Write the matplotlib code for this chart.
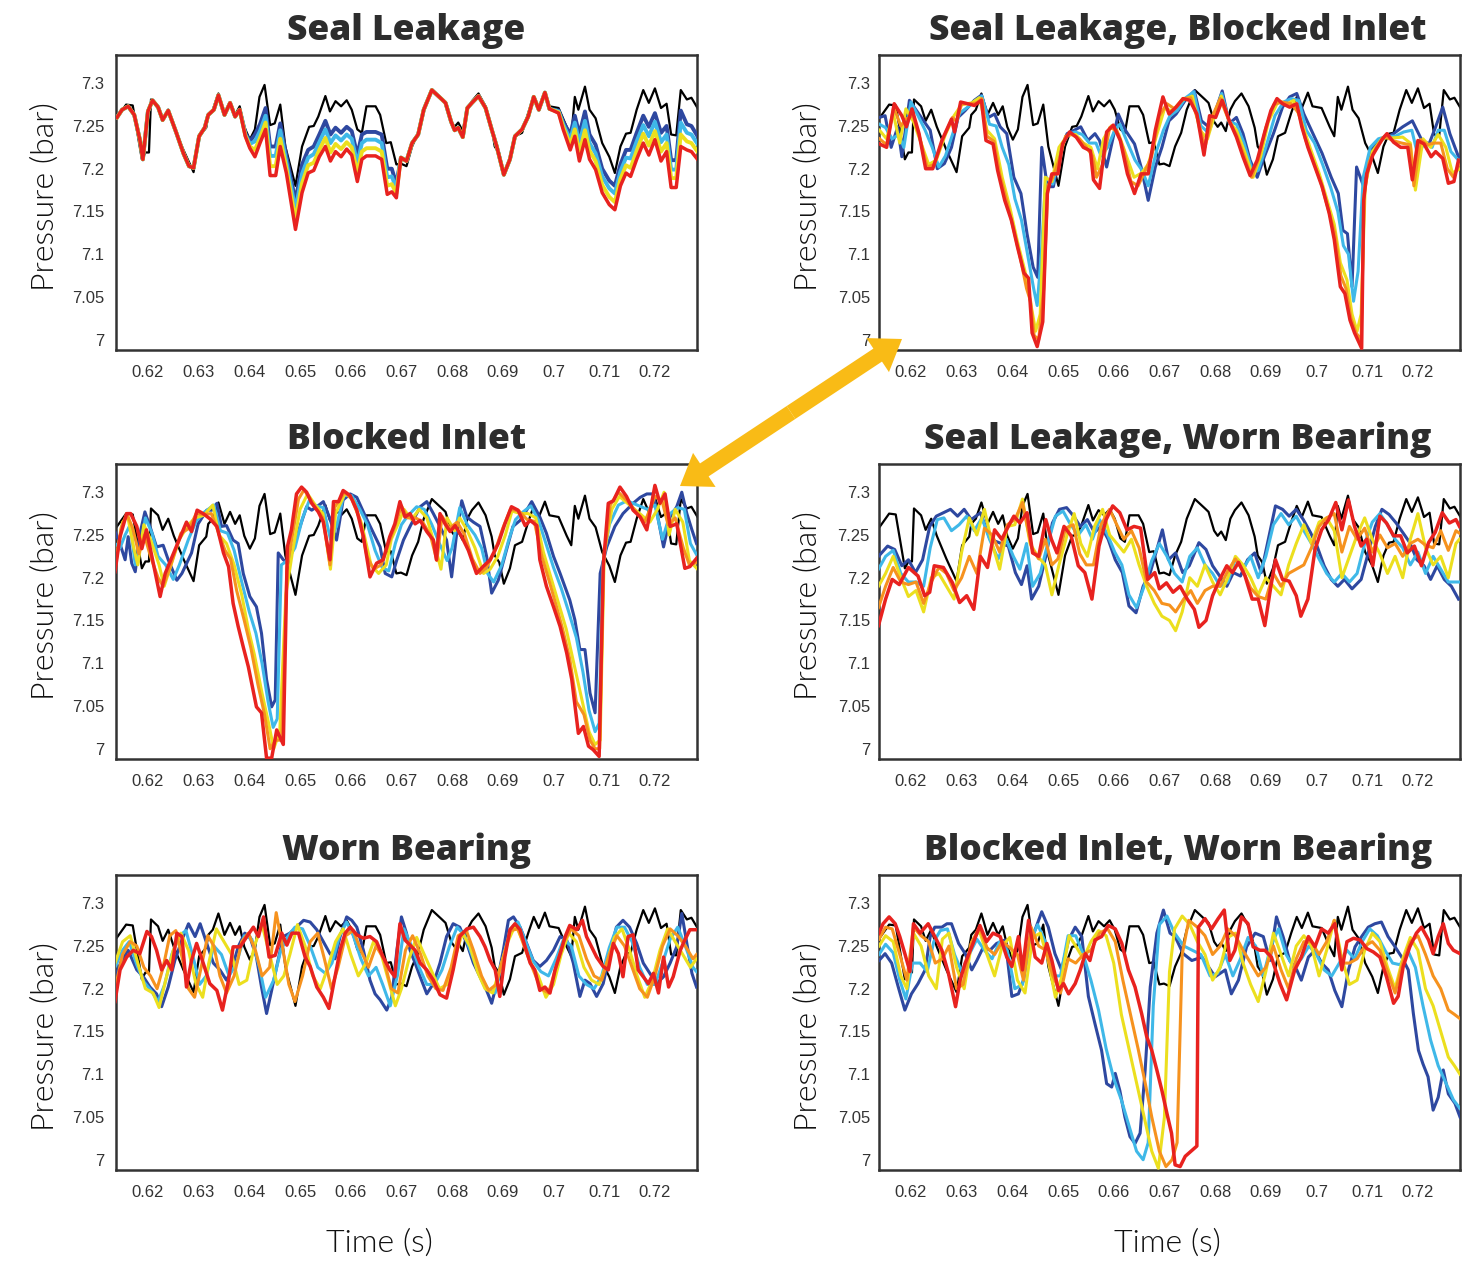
import numpy as np
import matplotlib.pyplot as plt
from matplotlib.patches import FancyArrowPatch

# healthy pump, shared by all six panels: (time s, pressure bar)
healthy = [
    (0.6139, 7.260), (0.6157, 7.275), (0.6170, 7.274), (0.6188, 7.211), (0.6195, 7.219), (0.6202, 7.219),
    (0.6206, 7.281), (0.6220, 7.273), (0.6229, 7.256), (0.6240, 7.269), (0.6251, 7.249), (0.6270, 7.222),
    (0.6290, 7.196), (0.6301, 7.238), (0.6315, 7.248), (0.6319, 7.263), (0.6328, 7.269), (0.6339, 7.288),
    (0.6351, 7.263), (0.6362, 7.277), (0.6372, 7.263), (0.6381, 7.273), (0.6390, 7.249), (0.6401, 7.234),
    (0.6411, 7.246), (0.6420, 7.284), (0.6430, 7.298), (0.6441, 7.251), (0.6450, 7.253), (0.6461, 7.275),
    (0.6471, 7.226), (0.6491, 7.180), (0.6504, 7.226), (0.6518, 7.249), (0.6527, 7.250), (0.6536, 7.261),
    (0.6550, 7.285), (0.6559, 7.267), (0.6570, 7.279), (0.6581, 7.273), (0.6592, 7.280), (0.6602, 7.269),
    (0.6613, 7.246), (0.6622, 7.242), (0.6631, 7.273), (0.6649, 7.273), (0.6658, 7.263), (0.6670, 7.230),
    (0.6679, 7.231), (0.6690, 7.205), (0.6699, 7.206), (0.6710, 7.203), (0.6721, 7.226), (0.6733, 7.242),
    (0.6744, 7.269), (0.6760, 7.292), (0.6780, 7.281), (0.6787, 7.277), (0.6798, 7.255), (0.6805, 7.249),
    (0.6812, 7.254), (0.6821, 7.244), (0.6830, 7.269), (0.6839, 7.279), (0.6852, 7.288), (0.6866, 7.273),
    (0.6878, 7.248), (0.6884, 7.226), (0.6893, 7.218), (0.6902, 7.193), (0.6914, 7.211), (0.6924, 7.238),
    (0.6938, 7.242), (0.6950, 7.265), (0.6961, 7.284), (0.6971, 7.271), (0.6983, 7.289), (0.6992, 7.273),
    (0.7010, 7.271), (0.7026, 7.249), (0.7035, 7.238), (0.7042, 7.284), (0.7049, 7.269), (0.7062, 7.296),
    (0.7071, 7.269), (0.7083, 7.259), (0.7096, 7.230), (0.7110, 7.214), (0.7121, 7.195), (0.7132, 7.226),
    (0.7143, 7.241), (0.7152, 7.242), (0.7164, 7.269), (0.7177, 7.292), (0.7188, 7.277), (0.7200, 7.294),
    (0.7212, 7.271), (0.7223, 7.276), (0.7232, 7.240), (0.7242, 7.239), (0.7251, 7.292), (0.7263, 7.281),
    (0.7272, 7.283), (0.7284, 7.271),
]

# Seal Leakage: time, then blue / cyan / yellow / red severity
seal_rows = [
    (0.6139, 7.260, 7.260, 7.260, 7.260), (0.6149, 7.269, 7.269, 7.269, 7.269),
    (0.6161, 7.273, 7.273, 7.273, 7.273), (0.6173, 7.263, 7.263, 7.263, 7.263),
    (0.6184, 7.234, 7.234, 7.234, 7.234), (0.6190, 7.211, 7.211, 7.211, 7.211),
    (0.6200, 7.267, 7.267, 7.267, 7.267), (0.6209, 7.280, 7.280, 7.280, 7.280),
    (0.6220, 7.272, 7.272, 7.272, 7.272), (0.6229, 7.257, 7.257, 7.257, 7.257),
    (0.6240, 7.268, 7.268, 7.268, 7.268), (0.6256, 7.242, 7.242, 7.242, 7.242),
    (0.6270, 7.218, 7.218, 7.218, 7.218), (0.6281, 7.203, 7.203, 7.203, 7.203),
    (0.6290, 7.201, 7.201, 7.201, 7.201), (0.6301, 7.238, 7.238, 7.238, 7.238),
    (0.6312, 7.248, 7.248, 7.248, 7.248), (0.6319, 7.263, 7.263, 7.263, 7.263),
    (0.6330, 7.269, 7.269, 7.269, 7.269), (0.6339, 7.286, 7.286, 7.286, 7.286),
    (0.6351, 7.263, 7.263, 7.263, 7.263), (0.6362, 7.277, 7.277, 7.277, 7.277),
    (0.6372, 7.261, 7.261, 7.261, 7.261), (0.6381, 7.269, 7.269, 7.269, 7.269),
    (0.6392, 7.242, 7.240, 7.239, 7.238), (0.6401, 7.232, 7.229, 7.226, 7.224),
    (0.6411, 7.240, 7.232, 7.222, 7.214), (0.6421, 7.252, 7.244, 7.236, 7.230),
    (0.6432, 7.271, 7.262, 7.254, 7.246), (0.6441, 7.226, 7.215, 7.203, 7.192),
    (0.6452, 7.226, 7.215, 7.203, 7.192), (0.6461, 7.253, 7.245, 7.235, 7.226),
    (0.6473, 7.215, 7.208, 7.201, 7.195), (0.6491, 7.162, 7.152, 7.140, 7.129),
    (0.6504, 7.205, 7.194, 7.183, 7.172), (0.6516, 7.222, 7.213, 7.204, 7.195),
    (0.6527, 7.226, 7.217, 7.207, 7.198), (0.6538, 7.240, 7.231, 7.222, 7.214),
    (0.6550, 7.256, 7.246, 7.236, 7.226), (0.6560, 7.240, 7.230, 7.219, 7.209),
    (0.6570, 7.248, 7.239, 7.229, 7.220), (0.6581, 7.242, 7.233, 7.223, 7.214),
    (0.6592, 7.249, 7.240, 7.231, 7.223), (0.6602, 7.244, 7.235, 7.225, 7.216),
    (0.6613, 7.216, 7.206, 7.195, 7.185), (0.6622, 7.240, 7.230, 7.220, 7.211),
    (0.6631, 7.243, 7.234, 7.224, 7.215), (0.6649, 7.243, 7.234, 7.224, 7.215),
    (0.6661, 7.240, 7.230, 7.220, 7.211), (0.6672, 7.200, 7.190, 7.180, 7.170),
    (0.6681, 7.200, 7.191, 7.182, 7.173), (0.6690, 7.182, 7.177, 7.171, 7.166),
    (0.6699, 7.213, 7.213, 7.213, 7.213), (0.6710, 7.209, 7.209, 7.209, 7.209),
    (0.6721, 7.230, 7.230, 7.230, 7.230), (0.6733, 7.240, 7.240, 7.240, 7.240),
    (0.6744, 7.269, 7.269, 7.269, 7.269), (0.6760, 7.292, 7.292, 7.292, 7.292),
    (0.6780, 7.281, 7.281, 7.281, 7.281), (0.6787, 7.277, 7.277, 7.277, 7.277),
    (0.6798, 7.255, 7.255, 7.255, 7.255), (0.6805, 7.245, 7.245, 7.245, 7.245),
    (0.6812, 7.248, 7.248, 7.248, 7.248), (0.6821, 7.237, 7.237, 7.237, 7.237),
    (0.6830, 7.271, 7.271, 7.271, 7.271), (0.6839, 7.277, 7.277, 7.277, 7.277),
    (0.6852, 7.285, 7.285, 7.285, 7.285), (0.6866, 7.271, 7.271, 7.271, 7.271),
    (0.6878, 7.246, 7.246, 7.246, 7.246), (0.6888, 7.226, 7.226, 7.226, 7.226),
    (0.6902, 7.193, 7.193, 7.193, 7.193), (0.6914, 7.211, 7.211, 7.211, 7.211),
    (0.6924, 7.238, 7.238, 7.238, 7.238), (0.6938, 7.246, 7.246, 7.246, 7.246),
    (0.6950, 7.261, 7.261, 7.261, 7.261), (0.6961, 7.284, 7.284, 7.284, 7.284),
    (0.6971, 7.269, 7.269, 7.269, 7.269), (0.6983, 7.289, 7.289, 7.289, 7.289),
    (0.6992, 7.270, 7.270, 7.270, 7.270), (0.7010, 7.268, 7.267, 7.266, 7.265),
    (0.7019, 7.255, 7.252, 7.249, 7.246), (0.7033, 7.240, 7.234, 7.228, 7.222),
    (0.7042, 7.262, 7.254, 7.246, 7.238), (0.7051, 7.240, 7.230, 7.219, 7.209),
    (0.7062, 7.267, 7.256, 7.245, 7.234), (0.7071, 7.240, 7.230, 7.221, 7.211),
    (0.7083, 7.228, 7.218, 7.209, 7.199), (0.7096, 7.200, 7.191, 7.181, 7.172),
    (0.7110, 7.186, 7.177, 7.167, 7.158), (0.7121, 7.180, 7.171, 7.161, 7.152),
    (0.7132, 7.205, 7.197, 7.188, 7.180), (0.7143, 7.222, 7.213, 7.204, 7.195),
    (0.7152, 7.222, 7.212, 7.201, 7.191), (0.7164, 7.242, 7.232, 7.221, 7.211),
    (0.7177, 7.262, 7.251, 7.241, 7.230), (0.7188, 7.249, 7.238, 7.227, 7.216),
    (0.7200, 7.265, 7.255, 7.244, 7.234), (0.7212, 7.242, 7.231, 7.220, 7.209),
    (0.7223, 7.250, 7.240, 7.230, 7.220), (0.7232, 7.210, 7.199, 7.189, 7.178),
    (0.7242, 7.210, 7.199, 7.189, 7.178), (0.7251, 7.268, 7.254, 7.240, 7.226),
    (0.7263, 7.252, 7.242, 7.232, 7.222), (0.7272, 7.250, 7.240, 7.230, 7.220),
    (0.7284, 7.238, 7.229, 7.220, 7.211),
]

# Seal Leakage, Blocked Inlet
slbi_blue = [
    (0.6138, 7.260), (0.6149, 7.262), (0.6161, 7.225), (0.6174, 7.249), (0.6182, 7.214), (0.6197, 7.280),
    (0.6211, 7.268), (0.6225, 7.256), (0.6238, 7.245), (0.6252, 7.200), (0.6266, 7.206), (0.6280, 7.225),
    (0.6293, 7.260), (0.6307, 7.268), (0.6325, 7.280), (0.6339, 7.286), (0.6353, 7.260), (0.6365, 7.264),
    (0.6376, 7.249), (0.6389, 7.241), (0.6403, 7.190), (0.6417, 7.171), (0.6429, 7.124), (0.6441, 7.085),
    (0.6450, 7.073), (0.6458, 7.225), (0.6469, 7.179), (0.6481, 7.179), (0.6494, 7.221), (0.6508, 7.241),
    (0.6522, 7.245), (0.6535, 7.249), (0.6549, 7.233), (0.6563, 7.241), (0.6572, 7.233), (0.6586, 7.202),
    (0.6599, 7.237), (0.6609, 7.264), (0.6623, 7.245), (0.6641, 7.229), (0.6654, 7.202), (0.6668, 7.163),
    (0.6682, 7.202), (0.6695, 7.225), (0.6709, 7.256), (0.6723, 7.264), (0.6741, 7.280), (0.6759, 7.291),
    (0.6773, 7.256), (0.6787, 7.249), (0.6801, 7.268), (0.6814, 7.291), (0.6828, 7.253), (0.6842, 7.260),
    (0.6855, 7.241), (0.6869, 7.210), (0.6883, 7.190), (0.6897, 7.214), (0.6915, 7.241), (0.6933, 7.272),
    (0.6947, 7.284), (0.6961, 7.288), (0.6975, 7.264), (0.6993, 7.241), (0.7011, 7.218), (0.7029, 7.190),
    (0.7043, 7.171), (0.7052, 7.128), (0.7061, 7.124), (0.7070, 7.062), (0.7079, 7.202), (0.7093, 7.179),
    (0.7107, 7.221), (0.7121, 7.233), (0.7139, 7.237), (0.7152, 7.241), (0.7170, 7.249), (0.7189, 7.256),
    (0.7208, 7.233), (0.7222, 7.229), (0.7235, 7.249), (0.7249, 7.272), (0.7263, 7.241), (0.7280, 7.214),
]
slbi_cyan = [
    (0.6138, 7.252), (0.6150, 7.248), (0.6163, 7.235), (0.6176, 7.240), (0.6186, 7.225), (0.6200, 7.278),
    (0.6214, 7.262), (0.6228, 7.245), (0.6242, 7.225), (0.6255, 7.202), (0.6268, 7.215), (0.6282, 7.240),
    (0.6296, 7.265), (0.6312, 7.272), (0.6328, 7.280), (0.6340, 7.285), (0.6355, 7.252), (0.6368, 7.250),
    (0.6380, 7.225), (0.6393, 7.205), (0.6405, 7.165), (0.6418, 7.140), (0.6430, 7.100), (0.6442, 7.060),
    (0.6449, 7.040), (0.6457, 7.100), (0.6466, 7.190), (0.6480, 7.182), (0.6494, 7.222), (0.6510, 7.240),
    (0.6524, 7.243), (0.6538, 7.240), (0.6552, 7.230), (0.6565, 7.230), (0.6575, 7.215), (0.6588, 7.225),
    (0.6602, 7.245), (0.6612, 7.252), (0.6626, 7.232), (0.6642, 7.210), (0.6656, 7.198), (0.6668, 7.180),
    (0.6684, 7.220), (0.6698, 7.245), (0.6711, 7.262), (0.6725, 7.268), (0.6742, 7.283), (0.6758, 7.290),
    (0.6772, 7.250), (0.6787, 7.242), (0.6802, 7.266), (0.6813, 7.288), (0.6828, 7.255), (0.6842, 7.252),
    (0.6857, 7.230), (0.6872, 7.200), (0.6885, 7.198), (0.6900, 7.225), (0.6918, 7.262), (0.6935, 7.278),
    (0.6950, 7.282), (0.6965, 7.280), (0.6980, 7.245), (0.6996, 7.230), (0.7012, 7.205), (0.7028, 7.178),
    (0.7042, 7.150), (0.7053, 7.110), (0.7063, 7.100), (0.7073, 7.045), (0.7082, 7.080), (0.7092, 7.190),
    (0.7106, 7.225), (0.7122, 7.235), (0.7140, 7.238), (0.7155, 7.238), (0.7172, 7.243), (0.7188, 7.245),
    (0.7200, 7.215), (0.7212, 7.230), (0.7228, 7.225), (0.7240, 7.245), (0.7252, 7.245), (0.7265, 7.220),
    (0.7280, 7.210),
]
slbi_mid = [
    (0.6138, 7.245), (0.6152, 7.235), (0.6165, 7.265), (0.6178, 7.230), (0.6190, 7.270), (0.6205, 7.255),
    (0.6220, 7.230), (0.6235, 7.205), (0.6250, 7.210), (0.6268, 7.240), (0.6285, 7.262), (0.6300, 7.275),
    (0.6320, 7.277), (0.6335, 7.283), (0.6350, 7.245), (0.6365, 7.235), (0.6380, 7.190), (0.6395, 7.155),
    (0.6410, 7.115), (0.6425, 7.080), (0.6437, 7.040), (0.6446, 7.010), (0.6455, 7.030), (0.6465, 7.190),
    (0.6478, 7.185), (0.6492, 7.225), (0.6510, 7.240), (0.6525, 7.240), (0.6540, 7.230), (0.6555, 7.225),
    (0.6568, 7.200), (0.6580, 7.235), (0.6595, 7.250), (0.6610, 7.240), (0.6625, 7.215), (0.6640, 7.190),
    (0.6655, 7.195), (0.6668, 7.205), (0.6685, 7.240), (0.6700, 7.270), (0.6715, 7.268), (0.6735, 7.280),
    (0.6755, 7.285), (0.6770, 7.245), (0.6785, 7.235), (0.6800, 7.265), (0.6812, 7.285), (0.6828, 7.255),
    (0.6842, 7.245), (0.6858, 7.220), (0.6875, 7.190), (0.6890, 7.215), (0.6905, 7.255), (0.6925, 7.280),
    (0.6940, 7.275), (0.6955, 7.280), (0.6970, 7.255), (0.6990, 7.220), (0.7005, 7.195), (0.7020, 7.165),
    (0.7035, 7.135), (0.7047, 7.090), (0.7060, 7.070), (0.7070, 7.030), (0.7080, 7.010), (0.7088, 7.030),
    (0.7096, 7.180), (0.7110, 7.220), (0.7130, 7.236), (0.7150, 7.236), (0.7170, 7.237), (0.7185, 7.230),
    (0.7195, 7.175), (0.7210, 7.235), (0.7225, 7.225), (0.7240, 7.240), (0.7255, 7.225), (0.7268, 7.195),
    (0.7283, 7.200),
]
slbi_orange = [
    (0.6138, 7.235), (0.6152, 7.228), (0.6166, 7.272), (0.6180, 7.250), (0.6190, 7.258), (0.6204, 7.262),
    (0.6218, 7.235), (0.6232, 7.202), (0.6246, 7.205), (0.6264, 7.236), (0.6282, 7.260), (0.6290, 7.255),
    (0.6300, 7.276), (0.6316, 7.276), (0.6330, 7.277), (0.6340, 7.282), (0.6350, 7.238), (0.6364, 7.232),
    (0.6375, 7.194), (0.6390, 7.160), (0.6403, 7.128), (0.6416, 7.095), (0.6428, 7.060), (0.6436, 7.045),
    (0.6443, 7.005), (0.6452, 7.000), (0.6462, 7.060), (0.6470, 7.180), (0.6480, 7.190), (0.6492, 7.210),
    (0.6505, 7.238), (0.6518, 7.240), (0.6532, 7.235), (0.6546, 7.225), (0.6558, 7.215), (0.6566, 7.190),
    (0.6578, 7.205), (0.6592, 7.248), (0.6606, 7.245), (0.6620, 7.222), (0.6634, 7.185), (0.6648, 7.180),
    (0.6660, 7.195), (0.6675, 7.215), (0.6690, 7.262), (0.6705, 7.276), (0.6720, 7.270), (0.6736, 7.282),
    (0.6752, 7.283), (0.6767, 7.255), (0.6780, 7.225), (0.6795, 7.262), (0.6810, 7.282), (0.6828, 7.255),
    (0.6842, 7.240), (0.6856, 7.217), (0.6872, 7.190), (0.6886, 7.212), (0.6900, 7.248), (0.6916, 7.275),
    (0.6932, 7.278), (0.6950, 7.276), (0.6965, 7.265), (0.6978, 7.235), (0.6993, 7.210), (0.7008, 7.185),
    (0.7022, 7.155), (0.7036, 7.125), (0.7048, 7.075), (0.7058, 7.060), (0.7068, 7.025), (0.7078, 7.008),
    (0.7088, 7.000), (0.7094, 7.170), (0.7104, 7.208), (0.7118, 7.225), (0.7135, 7.238), (0.7150, 7.233),
    (0.7168, 7.230), (0.7185, 7.228), (0.7192, 7.180), (0.7205, 7.234), (0.7218, 7.228), (0.7232, 7.230),
    (0.7245, 7.230), (0.7258, 7.200), (0.7270, 7.190), (0.7281, 7.205),
]
slbi_red = [
    (0.6138, 7.229), (0.6152, 7.225), (0.6167, 7.276), (0.6182, 7.262), (0.6191, 7.249), (0.6202, 7.270),
    (0.6216, 7.241), (0.6229, 7.200), (0.6243, 7.200), (0.6261, 7.233), (0.6280, 7.258), (0.6286, 7.243),
    (0.6298, 7.278), (0.6312, 7.276), (0.6325, 7.274), (0.6339, 7.280), (0.6348, 7.233), (0.6362, 7.229),
    (0.6371, 7.198), (0.6385, 7.163), (0.6398, 7.140), (0.6410, 7.109), (0.6423, 7.078), (0.6432, 7.072),
    (0.6439, 7.008), (0.6449, 6.992), (0.6460, 7.021), (0.6469, 7.171), (0.6478, 7.194), (0.6490, 7.194),
    (0.6499, 7.229), (0.6513, 7.243), (0.6526, 7.237), (0.6540, 7.225), (0.6554, 7.221), (0.6560, 7.187),
    (0.6572, 7.177), (0.6586, 7.243), (0.6599, 7.251), (0.6613, 7.233), (0.6627, 7.194), (0.6641, 7.171),
    (0.6654, 7.194), (0.6668, 7.194), (0.6682, 7.245), (0.6697, 7.284), (0.6709, 7.264), (0.6723, 7.272),
    (0.6737, 7.282), (0.6750, 7.280), (0.6764, 7.264), (0.6778, 7.216), (0.6789, 7.262), (0.6801, 7.260),
    (0.6814, 7.280), (0.6828, 7.256), (0.6842, 7.237), (0.6855, 7.214), (0.6869, 7.192), (0.6883, 7.210),
    (0.6897, 7.241), (0.6910, 7.268), (0.6922, 7.282), (0.6933, 7.276), (0.6947, 7.272), (0.6961, 7.276),
    (0.6971, 7.249), (0.6983, 7.225), (0.6997, 7.202), (0.7011, 7.179), (0.7025, 7.148), (0.7035, 7.117),
    (0.7047, 7.062), (0.7056, 7.054), (0.7066, 7.023), (0.7075, 7.008), (0.7089, 6.990), (0.7093, 7.163),
    (0.7099, 7.194), (0.7111, 7.216), (0.7130, 7.235), (0.7139, 7.241), (0.7152, 7.231), (0.7166, 7.225),
    (0.7180, 7.225), (0.7189, 7.187), (0.7200, 7.233), (0.7212, 7.229), (0.7226, 7.214), (0.7235, 7.220),
    (0.7249, 7.212), (0.7260, 7.183), (0.7271, 7.185), (0.7280, 7.210),
]

# Blocked Inlet
bi_blue = [
    (0.6135, 7.254), (0.6143, 7.243), (0.6155, 7.221), (0.6161, 7.248), (0.6168, 7.217), (0.6175, 7.207),
    (0.6184, 7.251), (0.6194, 7.277), (0.6204, 7.260), (0.6217, 7.236), (0.6230, 7.238), (0.6240, 7.221),
    (0.6257, 7.197), (0.6267, 7.205), (0.6286, 7.229), (0.6299, 7.263), (0.6316, 7.279), (0.6326, 7.279),
    (0.6336, 7.287), (0.6345, 7.260), (0.6355, 7.261), (0.6368, 7.244), (0.6378, 7.240), (0.6388, 7.205),
    (0.6401, 7.178), (0.6414, 7.166), (0.6424, 7.135), (0.6434, 7.081), (0.6444, 7.049), (0.6451, 7.057),
    (0.6457, 7.229), (0.6467, 7.221), (0.6477, 7.217), (0.6487, 7.236), (0.6500, 7.260), (0.6513, 7.283),
    (0.6523, 7.279), (0.6533, 7.283), (0.6546, 7.289), (0.6559, 7.269), (0.6572, 7.244), (0.6585, 7.291),
    (0.6599, 7.298), (0.6612, 7.294), (0.6628, 7.273), (0.6645, 7.252), (0.6658, 7.236), (0.6668, 7.205),
    (0.6681, 7.201), (0.6691, 7.221), (0.6704, 7.244), (0.6717, 7.260), (0.6737, 7.283), (0.6750, 7.289),
    (0.6763, 7.275), (0.6776, 7.260), (0.6789, 7.244), (0.6799, 7.201), (0.6809, 7.252), (0.6819, 7.290),
    (0.6829, 7.271), (0.6842, 7.265), (0.6855, 7.260), (0.6868, 7.225), (0.6878, 7.182), (0.6891, 7.197),
    (0.6907, 7.232), (0.6920, 7.260), (0.6934, 7.267), (0.6947, 7.279), (0.6957, 7.289), (0.6973, 7.271),
    (0.6986, 7.252), (0.7000, 7.225), (0.7013, 7.205), (0.7032, 7.174), (0.7042, 7.151), (0.7052, 7.116),
    (0.7062, 7.116), (0.7072, 7.065), (0.7082, 7.042), (0.7092, 7.205), (0.7105, 7.236), (0.7121, 7.260),
    (0.7137, 7.275), (0.7157, 7.287), (0.7171, 7.294), (0.7184, 7.298), (0.7197, 7.298), (0.7217, 7.236),
    (0.7230, 7.271), (0.7243, 7.283), (0.7253, 7.300), (0.7263, 7.275), (0.7273, 7.256), (0.7282, 7.240),
]
bi_cyan = [
    (0.6135, 7.240), (0.6145, 7.235), (0.6155, 7.250), (0.6165, 7.262), (0.6175, 7.215), (0.6185, 7.235),
    (0.6195, 7.270), (0.6208, 7.252), (0.6220, 7.225), (0.6235, 7.215), (0.6250, 7.198), (0.6262, 7.215),
    (0.6280, 7.245), (0.6295, 7.266), (0.6312, 7.277), (0.6330, 7.285), (0.6343, 7.255), (0.6357, 7.252),
    (0.6370, 7.232), (0.6385, 7.195), (0.6400, 7.160), (0.6413, 7.135), (0.6425, 7.100), (0.6437, 7.055),
    (0.6447, 7.025), (0.6455, 7.035), (0.6463, 7.215), (0.6475, 7.220), (0.6490, 7.235), (0.6505, 7.270),
    (0.6518, 7.290), (0.6532, 7.284), (0.6546, 7.282), (0.6560, 7.245), (0.6572, 7.260), (0.6586, 7.296),
    (0.6602, 7.296), (0.6618, 7.280), (0.6633, 7.262), (0.6648, 7.232), (0.6662, 7.212), (0.6675, 7.208),
    (0.6688, 7.240), (0.6700, 7.262), (0.6712, 7.272), (0.6730, 7.283), (0.6745, 7.280), (0.6760, 7.262),
    (0.6775, 7.240), (0.6790, 7.220), (0.6800, 7.235), (0.6815, 7.282), (0.6830, 7.262), (0.6845, 7.250),
    (0.6858, 7.235), (0.6870, 7.205), (0.6882, 7.195), (0.6898, 7.215), (0.6912, 7.245), (0.6925, 7.268),
    (0.6940, 7.277), (0.6955, 7.284), (0.6970, 7.268), (0.6985, 7.240), (0.7000, 7.212), (0.7015, 7.188),
    (0.7030, 7.160), (0.7045, 7.130), (0.7058, 7.090), (0.7070, 7.045), (0.7082, 7.020), (0.7090, 7.030),
    (0.7097, 7.215), (0.7110, 7.262), (0.7128, 7.285), (0.7145, 7.290), (0.7165, 7.285), (0.7185, 7.280),
    (0.7200, 7.285), (0.7215, 7.245), (0.7230, 7.275), (0.7245, 7.282), (0.7258, 7.280), (0.7270, 7.240),
    (0.7284, 7.225),
]
bi_mid = [
    (0.6135, 7.215), (0.6150, 7.265), (0.6160, 7.272), (0.6172, 7.235), (0.6180, 7.215), (0.6192, 7.262),
    (0.6205, 7.245), (0.6222, 7.215), (0.6232, 7.190), (0.6262, 7.245), (0.6280, 7.262), (0.6293, 7.270),
    (0.6310, 7.273), (0.6328, 7.285), (0.6340, 7.250), (0.6355, 7.240), (0.6370, 7.215), (0.6385, 7.180),
    (0.6398, 7.140), (0.6410, 7.110), (0.6425, 7.065), (0.6438, 7.030), (0.6448, 7.000), (0.6460, 7.020),
    (0.6472, 7.180), (0.6485, 7.230), (0.6500, 7.280), (0.6515, 7.298), (0.6530, 7.285), (0.6545, 7.275),
    (0.6560, 7.210), (0.6570, 7.275), (0.6590, 7.300), (0.6605, 7.290), (0.6622, 7.262), (0.6640, 7.215),
    (0.6655, 7.205), (0.6670, 7.215), (0.6680, 7.245), (0.6695, 7.265), (0.6705, 7.280), (0.6720, 7.268),
    (0.6735, 7.280), (0.6750, 7.270), (0.6765, 7.240), (0.6778, 7.210), (0.6790, 7.270), (0.6805, 7.255),
    (0.6815, 7.270), (0.6830, 7.255), (0.6845, 7.235), (0.6862, 7.205), (0.6875, 7.210), (0.6890, 7.225),
    (0.6905, 7.250), (0.6918, 7.278), (0.6935, 7.275), (0.6950, 7.275), (0.6965, 7.270), (0.6980, 7.230),
    (0.6995, 7.200), (0.7010, 7.170), (0.7025, 7.140), (0.7040, 7.100), (0.7055, 7.060), (0.7070, 7.020),
    (0.7082, 7.005), (0.7092, 7.010), (0.7100, 7.230), (0.7115, 7.280), (0.7130, 7.295), (0.7150, 7.285),
    (0.7170, 7.275), (0.7190, 7.265), (0.7205, 7.280), (0.7218, 7.300), (0.7228, 7.250), (0.7240, 7.280),
    (0.7255, 7.265), (0.7268, 7.220), (0.7284, 7.210),
]
bi_orange = [
    (0.6135, 7.210), (0.6147, 7.258), (0.6158, 7.275), (0.6170, 7.258), (0.6182, 7.228), (0.6193, 7.250),
    (0.6205, 7.225), (0.6220, 7.200), (0.6230, 7.190), (0.6245, 7.215), (0.6265, 7.252), (0.6282, 7.258),
    (0.6295, 7.275), (0.6310, 7.274), (0.6325, 7.275), (0.6338, 7.255), (0.6352, 7.232), (0.6363, 7.222),
    (0.6375, 7.185), (0.6390, 7.150), (0.6403, 7.118), (0.6417, 7.075), (0.6430, 7.040), (0.6441, 7.000),
    (0.6452, 7.010), (0.6464, 7.010), (0.6474, 7.210), (0.6485, 7.250), (0.6497, 7.292), (0.6508, 7.303),
    (0.6520, 7.292), (0.6533, 7.280), (0.6545, 7.270), (0.6559, 7.215), (0.6568, 7.282), (0.6588, 7.300),
    (0.6602, 7.292), (0.6618, 7.268), (0.6632, 7.225), (0.6645, 7.210), (0.6660, 7.215), (0.6675, 7.240),
    (0.6688, 7.262), (0.6700, 7.284), (0.6712, 7.270), (0.6728, 7.270), (0.6742, 7.265), (0.6757, 7.250),
    (0.6770, 7.220), (0.6780, 7.272), (0.6795, 7.258), (0.6810, 7.265), (0.6825, 7.250), (0.6840, 7.222),
    (0.6855, 7.205), (0.6868, 7.212), (0.6885, 7.232), (0.6900, 7.258), (0.6915, 7.280), (0.6932, 7.278),
    (0.6948, 7.268), (0.6962, 7.266), (0.6977, 7.225), (0.6992, 7.195), (0.7005, 7.168), (0.7018, 7.140),
    (0.7032, 7.105), (0.7045, 7.055), (0.7060, 7.040), (0.7072, 7.010), (0.7082, 7.000), (0.7091, 7.000),
    (0.7099, 7.220), (0.7112, 7.285), (0.7128, 7.300), (0.7145, 7.290), (0.7162, 7.278), (0.7180, 7.265),
    (0.7200, 7.295), (0.7214, 7.290), (0.7226, 7.262), (0.7240, 7.270), (0.7256, 7.235), (0.7268, 7.215),
    (0.7284, 7.218),
]
bi_red = [
    (0.6135, 7.207), (0.6145, 7.248), (0.6158, 7.275), (0.6166, 7.275), (0.6178, 7.260), (0.6188, 7.234),
    (0.6197, 7.256), (0.6224, 7.178), (0.6234, 7.205), (0.6276, 7.265), (0.6286, 7.254), (0.6297, 7.279),
    (0.6309, 7.275), (0.6322, 7.269), (0.6336, 7.260), (0.6349, 7.229), (0.6359, 7.213), (0.6368, 7.170),
    (0.6378, 7.143), (0.6388, 7.119), (0.6398, 7.096), (0.6414, 7.049), (0.6424, 7.042), (0.6434, 6.989),
    (0.6444, 6.989), (0.6454, 7.022), (0.6467, 7.005), (0.6475, 7.236), (0.6483, 7.256), (0.6493, 7.298),
    (0.6503, 7.306), (0.6513, 7.300), (0.6523, 7.287), (0.6536, 7.277), (0.6546, 7.265), (0.6559, 7.221),
    (0.6566, 7.289), (0.6576, 7.289), (0.6585, 7.302), (0.6599, 7.296), (0.6612, 7.279), (0.6625, 7.248),
    (0.6638, 7.201), (0.6651, 7.217), (0.6664, 7.221), (0.6677, 7.248), (0.6687, 7.263), (0.6697, 7.289),
    (0.6707, 7.271), (0.6717, 7.275), (0.6727, 7.263), (0.6737, 7.267), (0.6750, 7.254), (0.6763, 7.244),
    (0.6769, 7.221), (0.6776, 7.275), (0.6786, 7.263), (0.6796, 7.254), (0.6806, 7.261), (0.6819, 7.248),
    (0.6832, 7.232), (0.6848, 7.205), (0.6861, 7.213), (0.6875, 7.221), (0.6891, 7.240), (0.6904, 7.263),
    (0.6917, 7.283), (0.6930, 7.279), (0.6944, 7.261), (0.6954, 7.267), (0.6967, 7.261), (0.6973, 7.221),
    (0.6986, 7.190), (0.7000, 7.166), (0.7013, 7.143), (0.7026, 7.112), (0.7036, 7.081), (0.7049, 7.018),
    (0.7059, 7.026), (0.7069, 7.003), (0.7078, 6.999), (0.7090, 6.991), (0.7098, 7.213), (0.7108, 7.287),
    (0.7118, 7.290), (0.7131, 7.306), (0.7144, 7.295), (0.7157, 7.279), (0.7171, 7.271), (0.7184, 7.256),
    (0.7200, 7.308), (0.7210, 7.287), (0.7220, 7.298), (0.7230, 7.260), (0.7243, 7.263), (0.7259, 7.211),
    (0.7269, 7.213), (0.7284, 7.224),
]

# Seal Leakage, Worn Bearing
slwb_blue = [
    (0.6136, 7.225), (0.6154, 7.237), (0.6168, 7.233), (0.6182, 7.214), (0.6195, 7.221), (0.6209, 7.206),
    (0.6223, 7.221), (0.6237, 7.260), (0.6250, 7.272), (0.6264, 7.276), (0.6278, 7.280), (0.6292, 7.272),
    (0.6305, 7.280), (0.6319, 7.268), (0.6337, 7.276), (0.6356, 7.245), (0.6374, 7.241), (0.6392, 7.237),
    (0.6406, 7.206), (0.6418, 7.192), (0.6429, 7.214), (0.6438, 7.175), (0.6452, 7.190), (0.6466, 7.225),
    (0.6479, 7.264), (0.6493, 7.280), (0.6507, 7.282), (0.6521, 7.272), (0.6534, 7.260), (0.6548, 7.268),
    (0.6562, 7.253), (0.6575, 7.260), (0.6589, 7.245), (0.6603, 7.221), (0.6617, 7.206), (0.6630, 7.167),
    (0.6644, 7.159), (0.6658, 7.190), (0.6672, 7.206), (0.6685, 7.233), (0.6696, 7.256), (0.6708, 7.221),
    (0.6722, 7.229), (0.6736, 7.206), (0.6749, 7.214), (0.6768, 7.241), (0.6782, 7.233), (0.6795, 7.214),
    (0.6809, 7.202), (0.6823, 7.190), (0.6836, 7.206), (0.6850, 7.202), (0.6864, 7.221), (0.6878, 7.229),
    (0.6891, 7.206), (0.6905, 7.245), (0.6919, 7.284), (0.6933, 7.280), (0.6946, 7.272), (0.6960, 7.280),
    (0.6974, 7.268), (0.6988, 7.253), (0.7001, 7.237), (0.7015, 7.214), (0.7029, 7.198), (0.7042, 7.190),
    (0.7055, 7.198), (0.7070, 7.187), (0.7088, 7.198), (0.7102, 7.229), (0.7116, 7.260), (0.7129, 7.280),
    (0.7143, 7.274), (0.7157, 7.264), (0.7170, 7.253), (0.7184, 7.241), (0.7198, 7.221), (0.7212, 7.214),
    (0.7225, 7.198), (0.7238, 7.214), (0.7252, 7.198), (0.7266, 7.190), (0.7280, 7.175),
]
slwb_cyan = [
    (0.6136, 7.210), (0.6150, 7.225), (0.6165, 7.232), (0.6180, 7.205), (0.6195, 7.195), (0.6210, 7.195),
    (0.6225, 7.190), (0.6238, 7.235), (0.6252, 7.268), (0.6265, 7.270), (0.6280, 7.255), (0.6295, 7.262),
    (0.6310, 7.272), (0.6325, 7.255), (0.6340, 7.270), (0.6355, 7.245), (0.6372, 7.222), (0.6388, 7.245),
    (0.6402, 7.225), (0.6415, 7.210), (0.6428, 7.240), (0.6440, 7.190), (0.6455, 7.205), (0.6470, 7.240),
    (0.6485, 7.272), (0.6500, 7.278), (0.6515, 7.262), (0.6530, 7.250), (0.6545, 7.262), (0.6558, 7.245),
    (0.6572, 7.268), (0.6588, 7.250), (0.6602, 7.230), (0.6616, 7.215), (0.6630, 7.180), (0.6645, 7.165),
    (0.6660, 7.190), (0.6675, 7.220), (0.6690, 7.240), (0.6705, 7.225), (0.6720, 7.205), (0.6735, 7.195),
    (0.6750, 7.225), (0.6765, 7.235), (0.6780, 7.215), (0.6795, 7.205), (0.6810, 7.190), (0.6825, 7.195),
    (0.6840, 7.222), (0.6855, 7.210), (0.6870, 7.225), (0.6885, 7.200), (0.6900, 7.225), (0.6915, 7.262),
    (0.6930, 7.275), (0.6945, 7.262), (0.6960, 7.272), (0.6975, 7.255), (0.6990, 7.240), (0.7005, 7.222),
    (0.7020, 7.205), (0.7035, 7.195), (0.7050, 7.205), (0.7065, 7.195), (0.7080, 7.205), (0.7095, 7.240),
    (0.7110, 7.265), (0.7125, 7.275), (0.7140, 7.262), (0.7155, 7.245), (0.7170, 7.235), (0.7185, 7.215),
    (0.7200, 7.230), (0.7215, 7.205), (0.7230, 7.225), (0.7245, 7.210), (0.7260, 7.195), (0.7282, 7.195),
]
slwb_mid = [
    (0.6136, 7.190), (0.6150, 7.205), (0.6165, 7.225), (0.6180, 7.200), (0.6195, 7.178), (0.6210, 7.185),
    (0.6225, 7.160), (0.6240, 7.200), (0.6255, 7.205), (0.6270, 7.190), (0.6285, 7.175), (0.6300, 7.230),
    (0.6315, 7.270), (0.6330, 7.250), (0.6345, 7.280), (0.6360, 7.240), (0.6375, 7.210), (0.6390, 7.260),
    (0.6405, 7.262), (0.6420, 7.292), (0.6435, 7.240), (0.6450, 7.225), (0.6465, 7.215), (0.6478, 7.180),
    (0.6492, 7.215), (0.6508, 7.250), (0.6522, 7.275), (0.6535, 7.240), (0.6548, 7.225), (0.6562, 7.260),
    (0.6578, 7.280), (0.6592, 7.250), (0.6606, 7.240), (0.6620, 7.230), (0.6635, 7.245), (0.6650, 7.215),
    (0.6665, 7.190), (0.6680, 7.170), (0.6695, 7.155), (0.6710, 7.150), (0.6722, 7.138), (0.6735, 7.160),
    (0.6750, 7.200), (0.6765, 7.190), (0.6780, 7.215), (0.6795, 7.195), (0.6810, 7.180), (0.6825, 7.200),
    (0.6840, 7.225), (0.6855, 7.215), (0.6870, 7.200), (0.6885, 7.180), (0.6900, 7.200), (0.6915, 7.190),
    (0.6930, 7.180), (0.6945, 7.215), (0.6960, 7.240), (0.6975, 7.262), (0.6990, 7.240), (0.7005, 7.265),
    (0.7020, 7.270), (0.7035, 7.255), (0.7050, 7.200), (0.7065, 7.225), (0.7080, 7.250), (0.7095, 7.270),
    (0.7110, 7.245), (0.7125, 7.228), (0.7140, 7.205), (0.7155, 7.225), (0.7170, 7.200), (0.7185, 7.245),
    (0.7200, 7.275), (0.7215, 7.235), (0.7230, 7.215), (0.7245, 7.225), (0.7260, 7.200), (0.7275, 7.240),
    (0.7282, 7.245),
]
slwb_orange = [
    (0.6136, 7.165), (0.6150, 7.190), (0.6165, 7.212), (0.6180, 7.195), (0.6195, 7.192), (0.6210, 7.195),
    (0.6225, 7.170), (0.6240, 7.195), (0.6255, 7.212), (0.6270, 7.205), (0.6285, 7.185), (0.6300, 7.200),
    (0.6315, 7.225), (0.6330, 7.205), (0.6345, 7.258), (0.6360, 7.250), (0.6375, 7.230), (0.6390, 7.262),
    (0.6405, 7.268), (0.6420, 7.288), (0.6438, 7.235), (0.6452, 7.222), (0.6465, 7.245), (0.6478, 7.215),
    (0.6490, 7.222), (0.6505, 7.258), (0.6520, 7.262), (0.6533, 7.228), (0.6546, 7.215), (0.6560, 7.215),
    (0.6575, 7.262), (0.6592, 7.280), (0.6606, 7.262), (0.6620, 7.245), (0.6635, 7.255), (0.6650, 7.235),
    (0.6665, 7.195), (0.6680, 7.185), (0.6695, 7.170), (0.6710, 7.168), (0.6722, 7.160), (0.6738, 7.175),
    (0.6752, 7.185), (0.6765, 7.170), (0.6780, 7.185), (0.6795, 7.190), (0.6810, 7.190), (0.6825, 7.208),
    (0.6840, 7.222), (0.6855, 7.208), (0.6870, 7.188), (0.6885, 7.178), (0.6900, 7.175), (0.6915, 7.205),
    (0.6930, 7.190), (0.6945, 7.205), (0.6960, 7.210), (0.6975, 7.215), (0.6990, 7.235), (0.7005, 7.260),
    (0.7020, 7.270), (0.7035, 7.275), (0.7050, 7.230), (0.7065, 7.260), (0.7080, 7.245), (0.7095, 7.258),
    (0.7110, 7.230), (0.7125, 7.250), (0.7140, 7.235), (0.7155, 7.240), (0.7170, 7.225), (0.7185, 7.240),
    (0.7200, 7.245), (0.7215, 7.238), (0.7230, 7.235), (0.7245, 7.255), (0.7260, 7.232), (0.7275, 7.255),
    (0.7282, 7.252),
]
slwb_red = [
    (0.6136, 7.144), (0.6150, 7.175), (0.6163, 7.198), (0.6177, 7.192), (0.6195, 7.212), (0.6214, 7.202),
    (0.6227, 7.179), (0.6237, 7.183), (0.6246, 7.214), (0.6264, 7.212), (0.6282, 7.194), (0.6296, 7.171),
    (0.6310, 7.179), (0.6324, 7.163), (0.6337, 7.225), (0.6351, 7.212), (0.6365, 7.256), (0.6379, 7.245),
    (0.6392, 7.260), (0.6403, 7.272), (0.6415, 7.264), (0.6429, 7.276), (0.6440, 7.229), (0.6452, 7.225),
    (0.6466, 7.268), (0.6477, 7.245), (0.6488, 7.229), (0.6502, 7.260), (0.6516, 7.249), (0.6530, 7.214),
    (0.6543, 7.206), (0.6557, 7.175), (0.6571, 7.237), (0.6585, 7.268), (0.6598, 7.284), (0.6612, 7.276),
    (0.6626, 7.256), (0.6640, 7.260), (0.6653, 7.258), (0.6667, 7.198), (0.6681, 7.206), (0.6690, 7.187),
    (0.6704, 7.194), (0.6717, 7.183), (0.6731, 7.190), (0.6745, 7.175), (0.6759, 7.163), (0.6768, 7.142),
    (0.6782, 7.150), (0.6795, 7.179), (0.6809, 7.198), (0.6823, 7.214), (0.6834, 7.206), (0.6846, 7.218),
    (0.6859, 7.202), (0.6873, 7.175), (0.6885, 7.175), (0.6898, 7.144), (0.6910, 7.190), (0.6919, 7.221),
    (0.6933, 7.198), (0.6946, 7.196), (0.6960, 7.179), (0.6969, 7.155), (0.6983, 7.175), (0.6997, 7.233),
    (0.7010, 7.256), (0.7024, 7.268), (0.7038, 7.288), (0.7050, 7.256), (0.7063, 7.291), (0.7075, 7.260),
    (0.7088, 7.237), (0.7099, 7.245), (0.7111, 7.214), (0.7125, 7.272), (0.7138, 7.264), (0.7152, 7.249),
    (0.7166, 7.249), (0.7179, 7.229), (0.7193, 7.237), (0.7207, 7.214), (0.7221, 7.241), (0.7234, 7.253),
    (0.7248, 7.276), (0.7262, 7.264), (0.7275, 7.268), (0.7282, 7.260),
]

# Worn Bearing
wb_blue = [
    (0.6135, 7.214), (0.6148, 7.233), (0.6161, 7.245), (0.6178, 7.222), (0.6191, 7.214), (0.6204, 7.202),
    (0.6217, 7.194), (0.6227, 7.179), (0.6240, 7.202), (0.6253, 7.233), (0.6267, 7.257), (0.6280, 7.276),
    (0.6293, 7.261), (0.6303, 7.276), (0.6316, 7.253), (0.6329, 7.230), (0.6342, 7.222), (0.6355, 7.210),
    (0.6365, 7.222), (0.6378, 7.249), (0.6391, 7.265), (0.6401, 7.261), (0.6414, 7.237), (0.6424, 7.202),
    (0.6434, 7.171), (0.6444, 7.198), (0.6454, 7.226), (0.6467, 7.261), (0.6480, 7.265), (0.6493, 7.272),
    (0.6507, 7.280), (0.6520, 7.278), (0.6533, 7.269), (0.6546, 7.255), (0.6559, 7.241), (0.6569, 7.235),
    (0.6579, 7.261), (0.6592, 7.284), (0.6602, 7.280), (0.6612, 7.272), (0.6625, 7.245), (0.6638, 7.210),
    (0.6648, 7.194), (0.6658, 7.187), (0.6671, 7.175), (0.6681, 7.190), (0.6691, 7.245), (0.6700, 7.284),
    (0.6710, 7.265), (0.6717, 7.245), (0.6727, 7.230), (0.6737, 7.214), (0.6750, 7.194), (0.6763, 7.206),
    (0.6776, 7.230), (0.6789, 7.261), (0.6802, 7.276), (0.6815, 7.272), (0.6829, 7.253), (0.6842, 7.230),
    (0.6855, 7.214), (0.6868, 7.198), (0.6878, 7.183), (0.6888, 7.206), (0.6901, 7.245), (0.6911, 7.280),
    (0.6921, 7.284), (0.6934, 7.272), (0.6947, 7.253), (0.6960, 7.233), (0.6973, 7.226), (0.6986, 7.233),
    (0.7000, 7.245), (0.7013, 7.261), (0.7026, 7.257), (0.7039, 7.230), (0.7052, 7.191), (0.7062, 7.210),
    (0.7072, 7.206), (0.7085, 7.191), (0.7098, 7.206), (0.7111, 7.241), (0.7124, 7.272), (0.7137, 7.280),
    (0.7150, 7.272), (0.7164, 7.253), (0.7177, 7.230), (0.7190, 7.218), (0.7203, 7.206), (0.7217, 7.214),
    (0.7230, 7.230), (0.7243, 7.249), (0.7253, 7.288), (0.7263, 7.253), (0.7273, 7.218), (0.7282, 7.202),
]
wb_cyan = [
    (0.6135, 7.225), (0.6150, 7.245), (0.6163, 7.255), (0.6178, 7.228), (0.6192, 7.208), (0.6206, 7.198),
    (0.6220, 7.185), (0.6233, 7.205), (0.6247, 7.240), (0.6262, 7.262), (0.6275, 7.268), (0.6290, 7.235),
    (0.6302, 7.205), (0.6315, 7.215), (0.6330, 7.250), (0.6345, 7.240), (0.6360, 7.215), (0.6375, 7.230),
    (0.6390, 7.262), (0.6405, 7.258), (0.6420, 7.225), (0.6432, 7.190), (0.6448, 7.210), (0.6462, 7.245),
    (0.6477, 7.262), (0.6490, 7.272), (0.6505, 7.270), (0.6520, 7.250), (0.6535, 7.225), (0.6550, 7.218),
    (0.6563, 7.230), (0.6578, 7.262), (0.6592, 7.278), (0.6605, 7.262), (0.6620, 7.235), (0.6635, 7.215),
    (0.6650, 7.225), (0.6663, 7.205), (0.6678, 7.180), (0.6692, 7.215), (0.6705, 7.270), (0.6720, 7.250),
    (0.6735, 7.225), (0.6750, 7.205), (0.6765, 7.205), (0.6780, 7.222), (0.6795, 7.250), (0.6810, 7.272),
    (0.6825, 7.262), (0.6840, 7.238), (0.6855, 7.215), (0.6870, 7.200), (0.6885, 7.195), (0.6900, 7.235),
    (0.6915, 7.270), (0.6930, 7.278), (0.6945, 7.255), (0.6960, 7.232), (0.6975, 7.220), (0.6990, 7.215),
    (0.7005, 7.235), (0.7020, 7.258), (0.7035, 7.250), (0.7050, 7.215), (0.7065, 7.205), (0.7080, 7.200),
    (0.7095, 7.215), (0.7110, 7.248), (0.7125, 7.272), (0.7140, 7.272), (0.7155, 7.255), (0.7170, 7.225),
    (0.7185, 7.205), (0.7200, 7.205), (0.7215, 7.230), (0.7230, 7.258), (0.7245, 7.272), (0.7260, 7.250),
    (0.7275, 7.225), (0.7282, 7.220),
]
wb_mid = [
    (0.6135, 7.230), (0.6150, 7.255), (0.6165, 7.262), (0.6180, 7.230), (0.6195, 7.200), (0.6210, 7.195),
    (0.6222, 7.178), (0.6235, 7.210), (0.6250, 7.245), (0.6265, 7.265), (0.6280, 7.245), (0.6295, 7.205),
    (0.6308, 7.190), (0.6320, 7.230), (0.6335, 7.270), (0.6350, 7.255), (0.6365, 7.240), (0.6380, 7.205),
    (0.6395, 7.210), (0.6410, 7.250), (0.6425, 7.275), (0.6440, 7.240), (0.6455, 7.205), (0.6468, 7.215),
    (0.6480, 7.240), (0.6495, 7.275), (0.6510, 7.250), (0.6525, 7.215), (0.6540, 7.200), (0.6555, 7.225),
    (0.6570, 7.255), (0.6585, 7.270), (0.6600, 7.240), (0.6615, 7.215), (0.6630, 7.230), (0.6645, 7.255),
    (0.6658, 7.245), (0.6672, 7.215), (0.6688, 7.180), (0.6700, 7.200), (0.6715, 7.235), (0.6730, 7.260),
    (0.6745, 7.240), (0.6760, 7.220), (0.6775, 7.200), (0.6790, 7.205), (0.6805, 7.235), (0.6820, 7.265),
    (0.6835, 7.250), (0.6850, 7.220), (0.6865, 7.200), (0.6880, 7.195), (0.6895, 7.225), (0.6910, 7.255),
    (0.6925, 7.275), (0.6940, 7.255), (0.6955, 7.230), (0.6970, 7.215), (0.6985, 7.190), (0.7000, 7.205),
    (0.7015, 7.240), (0.7030, 7.265), (0.7045, 7.255), (0.7060, 7.225), (0.7075, 7.210), (0.7090, 7.205),
    (0.7105, 7.230), (0.7120, 7.260), (0.7135, 7.270), (0.7150, 7.245), (0.7165, 7.215), (0.7180, 7.190),
    (0.7195, 7.210), (0.7210, 7.245), (0.7225, 7.270), (0.7240, 7.255), (0.7255, 7.240), (0.7270, 7.225),
    (0.7282, 7.235),
]
wb_orange = [
    (0.6135, 7.200), (0.6150, 7.240), (0.6165, 7.255), (0.6178, 7.250), (0.6192, 7.225), (0.6205, 7.215),
    (0.6218, 7.200), (0.6230, 7.225), (0.6243, 7.262), (0.6255, 7.268), (0.6268, 7.235), (0.6280, 7.200),
    (0.6292, 7.190), (0.6305, 7.225), (0.6318, 7.262), (0.6330, 7.250), (0.6342, 7.215), (0.6355, 7.195),
    (0.6370, 7.215), (0.6385, 7.255), (0.6398, 7.265), (0.6412, 7.245), (0.6425, 7.215), (0.6440, 7.225),
    (0.6453, 7.289), (0.6465, 7.250), (0.6478, 7.205), (0.6490, 7.185), (0.6505, 7.215), (0.6520, 7.255),
    (0.6535, 7.265), (0.6548, 7.235), (0.6562, 7.200), (0.6575, 7.225), (0.6590, 7.262), (0.6605, 7.268),
    (0.6620, 7.245), (0.6635, 7.225), (0.6650, 7.250), (0.6665, 7.235), (0.6680, 7.200), (0.6693, 7.195),
    (0.6708, 7.245), (0.6722, 7.262), (0.6738, 7.240), (0.6752, 7.215), (0.6768, 7.200), (0.6782, 7.198),
    (0.6798, 7.225), (0.6812, 7.262), (0.6828, 7.268), (0.6842, 7.245), (0.6858, 7.215), (0.6872, 7.198),
    (0.6887, 7.205), (0.6900, 7.235), (0.6915, 7.268), (0.6930, 7.270), (0.6945, 7.245), (0.6960, 7.222),
    (0.6975, 7.200), (0.6990, 7.195), (0.7005, 7.225), (0.7020, 7.255), (0.7035, 7.270), (0.7050, 7.262),
    (0.7065, 7.235), (0.7080, 7.215), (0.7095, 7.210), (0.7110, 7.240), (0.7125, 7.262), (0.7140, 7.250),
    (0.7155, 7.225), (0.7170, 7.200), (0.7185, 7.190), (0.7200, 7.215), (0.7215, 7.250), (0.7230, 7.270),
    (0.7245, 7.262), (0.7260, 7.250), (0.7275, 7.235), (0.7282, 7.240),
]
wb_red = [
    (0.6135, 7.185), (0.6145, 7.222), (0.6158, 7.237), (0.6171, 7.245), (0.6184, 7.241), (0.6198, 7.267),
    (0.6207, 7.261), (0.6217, 7.245), (0.6227, 7.222), (0.6237, 7.233), (0.6247, 7.222), (0.6257, 7.265),
    (0.6267, 7.261), (0.6276, 7.202), (0.6286, 7.233), (0.6296, 7.253), (0.6309, 7.230), (0.6322, 7.206),
    (0.6336, 7.198), (0.6347, 7.175), (0.6359, 7.210), (0.6368, 7.249), (0.6382, 7.249), (0.6395, 7.261),
    (0.6408, 7.272), (0.6418, 7.261), (0.6428, 7.284), (0.6439, 7.237), (0.6451, 7.239), (0.6464, 7.265),
    (0.6474, 7.251), (0.6484, 7.265), (0.6497, 7.265), (0.6510, 7.237), (0.6520, 7.226), (0.6533, 7.202),
    (0.6546, 7.190), (0.6557, 7.177), (0.6569, 7.214), (0.6579, 7.245), (0.6589, 7.265), (0.6599, 7.272),
    (0.6612, 7.263), (0.6625, 7.259), (0.6638, 7.261), (0.6651, 7.255), (0.6664, 7.237), (0.6677, 7.222),
    (0.6687, 7.214), (0.6697, 7.276), (0.6707, 7.257), (0.6717, 7.251), (0.6727, 7.245), (0.6737, 7.230),
    (0.6750, 7.222), (0.6763, 7.210), (0.6776, 7.193), (0.6789, 7.189), (0.6802, 7.222), (0.6815, 7.261),
    (0.6829, 7.270), (0.6842, 7.272), (0.6855, 7.261), (0.6865, 7.249), (0.6875, 7.233), (0.6885, 7.222),
    (0.6894, 7.191), (0.6904, 7.237), (0.6914, 7.269), (0.6924, 7.276), (0.6934, 7.269), (0.6944, 7.249),
    (0.6954, 7.230), (0.6963, 7.222), (0.6973, 7.198), (0.6983, 7.202), (0.6993, 7.195), (0.7003, 7.222),
    (0.7013, 7.241), (0.7023, 7.261), (0.7032, 7.274), (0.7046, 7.269), (0.7057, 7.280), (0.7065, 7.261),
    (0.7075, 7.249), (0.7085, 7.237), (0.7098, 7.226), (0.7108, 7.222), (0.7118, 7.253), (0.7128, 7.241),
    (0.7137, 7.214), (0.7147, 7.261), (0.7157, 7.263), (0.7167, 7.222), (0.7177, 7.214), (0.7187, 7.206),
    (0.7197, 7.218), (0.7207, 7.195), (0.7217, 7.237), (0.7227, 7.202), (0.7236, 7.214), (0.7250, 7.245),
    (0.7259, 7.257), (0.7269, 7.269), (0.7282, 7.269),
]

# Blocked Inlet, Worn Bearing
biwb_blue = [
    (0.6137, 7.233), (0.6149, 7.241), (0.6162, 7.230), (0.6175, 7.202), (0.6188, 7.175), (0.6201, 7.194),
    (0.6214, 7.206), (0.6228, 7.222), (0.6238, 7.261), (0.6247, 7.272), (0.6261, 7.272), (0.6271, 7.276),
    (0.6280, 7.276), (0.6294, 7.253), (0.6307, 7.241), (0.6320, 7.222), (0.6330, 7.233), (0.6343, 7.249),
    (0.6356, 7.245), (0.6369, 7.253), (0.6386, 7.257), (0.6399, 7.191), (0.6412, 7.194), (0.6422, 7.210),
    (0.6432, 7.249), (0.6445, 7.269), (0.6458, 7.290), (0.6471, 7.272), (0.6484, 7.241), (0.6497, 7.222),
    (0.6511, 7.257), (0.6524, 7.272), (0.6537, 7.261), (0.6550, 7.191), (0.6563, 7.159), (0.6576, 7.128),
    (0.6586, 7.089), (0.6596, 7.085), (0.6603, 7.101), (0.6612, 7.081), (0.6622, 7.050), (0.6632, 7.027),
    (0.6642, 7.019), (0.6652, 7.031), (0.6662, 7.105), (0.6672, 7.202), (0.6685, 7.265), (0.6698, 7.292),
    (0.6711, 7.265), (0.6721, 7.261), (0.6737, 7.241), (0.6754, 7.233), (0.6774, 7.237), (0.6800, 7.214),
    (0.6820, 7.222), (0.6832, 7.194), (0.6846, 7.210), (0.6862, 7.249), (0.6879, 7.265), (0.6895, 7.261),
    (0.6908, 7.233), (0.6921, 7.284), (0.6934, 7.261), (0.6947, 7.233), (0.6961, 7.222), (0.6970, 7.210),
    (0.6984, 7.237), (0.6997, 7.245), (0.7010, 7.230), (0.7023, 7.222), (0.7036, 7.198), (0.7050, 7.179),
    (0.7063, 7.222), (0.7076, 7.249), (0.7089, 7.261), (0.7102, 7.272), (0.7115, 7.276), (0.7128, 7.278),
    (0.7141, 7.261), (0.7155, 7.249), (0.7168, 7.237), (0.7181, 7.222), (0.7191, 7.171), (0.7201, 7.128),
    (0.7210, 7.112), (0.7220, 7.097), (0.7230, 7.058), (0.7240, 7.073), (0.7250, 7.105), (0.7260, 7.077),
    (0.7273, 7.066), (0.7283, 7.050),
]
biwb_cyan = [
    (0.6137, 7.240), (0.6150, 7.252), (0.6165, 7.242), (0.6178, 7.210), (0.6190, 7.188), (0.6203, 7.230),
    (0.6218, 7.230), (0.6232, 7.220), (0.6245, 7.255), (0.6258, 7.268), (0.6272, 7.270), (0.6286, 7.240),
    (0.6300, 7.220), (0.6315, 7.240), (0.6330, 7.258), (0.6345, 7.245), (0.6360, 7.235), (0.6375, 7.255),
    (0.6390, 7.245), (0.6405, 7.200), (0.6420, 7.205), (0.6435, 7.255), (0.6450, 7.275), (0.6465, 7.255),
    (0.6480, 7.215), (0.6495, 7.215), (0.6510, 7.262), (0.6525, 7.262), (0.6540, 7.240), (0.6555, 7.210),
    (0.6570, 7.175), (0.6585, 7.130), (0.6600, 7.095), (0.6615, 7.070), (0.6630, 7.040), (0.6645, 7.010),
    (0.6658, 7.000), (0.6668, 7.020), (0.6678, 7.180), (0.6690, 7.275), (0.6705, 7.285), (0.6720, 7.265),
    (0.6738, 7.250), (0.6755, 7.245), (0.6772, 7.240), (0.6790, 7.215), (0.6805, 7.218), (0.6820, 7.240),
    (0.6835, 7.215), (0.6850, 7.235), (0.6865, 7.260), (0.6880, 7.250), (0.6895, 7.215), (0.6910, 7.250),
    (0.6925, 7.270), (0.6940, 7.240), (0.6955, 7.225), (0.6970, 7.235), (0.6985, 7.250), (0.7000, 7.240),
    (0.7015, 7.222), (0.7030, 7.215), (0.7045, 7.230), (0.7060, 7.245), (0.7075, 7.235), (0.7090, 7.255),
    (0.7105, 7.270), (0.7120, 7.262), (0.7135, 7.245), (0.7150, 7.230), (0.7165, 7.228), (0.7180, 7.245),
    (0.7195, 7.225), (0.7210, 7.180), (0.7225, 7.140), (0.7240, 7.110), (0.7255, 7.090), (0.7270, 7.070),
    (0.7283, 7.060),
]
biwb_mid = [
    (0.6137, 7.250), (0.6150, 7.262), (0.6165, 7.255), (0.6180, 7.215), (0.6192, 7.200), (0.6205, 7.265),
    (0.6220, 7.250), (0.6235, 7.215), (0.6250, 7.200), (0.6262, 7.258), (0.6275, 7.265), (0.6290, 7.225),
    (0.6305, 7.200), (0.6320, 7.255), (0.6335, 7.268), (0.6350, 7.240), (0.6365, 7.215), (0.6380, 7.250),
    (0.6395, 7.260), (0.6410, 7.210), (0.6425, 7.195), (0.6440, 7.260), (0.6455, 7.265), (0.6470, 7.235),
    (0.6485, 7.190), (0.6498, 7.215), (0.6512, 7.262), (0.6525, 7.250), (0.6540, 7.235), (0.6555, 7.255),
    (0.6570, 7.268), (0.6585, 7.262), (0.6600, 7.230), (0.6615, 7.170), (0.6630, 7.130), (0.6645, 7.090),
    (0.6660, 7.050), (0.6675, 7.010), (0.6688, 6.990), (0.6700, 7.050), (0.6710, 7.220), (0.6720, 7.270),
    (0.6735, 7.285), (0.6750, 7.275), (0.6765, 7.255), (0.6780, 7.240), (0.6795, 7.210), (0.6810, 7.225),
    (0.6825, 7.260), (0.6840, 7.265), (0.6855, 7.230), (0.6870, 7.205), (0.6885, 7.185), (0.6900, 7.220),
    (0.6915, 7.265), (0.6930, 7.240), (0.6945, 7.215), (0.6960, 7.250), (0.6975, 7.262), (0.6990, 7.250),
    (0.7005, 7.215), (0.7020, 7.245), (0.7035, 7.280), (0.7050, 7.235), (0.7065, 7.205), (0.7080, 7.210),
    (0.7095, 7.245), (0.7110, 7.265), (0.7125, 7.255), (0.7140, 7.225), (0.7155, 7.200), (0.7170, 7.235),
    (0.7185, 7.260), (0.7200, 7.245), (0.7215, 7.200), (0.7230, 7.180), (0.7245, 7.150), (0.7260, 7.120),
    (0.7272, 7.110), (0.7283, 7.100),
]
biwb_orange = [
    (0.6137, 7.258), (0.6150, 7.272), (0.6163, 7.270), (0.6178, 7.240), (0.6192, 7.210), (0.6205, 7.272),
    (0.6220, 7.262), (0.6235, 7.255), (0.6248, 7.230), (0.6262, 7.235), (0.6275, 7.250), (0.6290, 7.200),
    (0.6303, 7.205), (0.6318, 7.252), (0.6335, 7.272), (0.6350, 7.248), (0.6365, 7.240), (0.6380, 7.255),
    (0.6395, 7.248), (0.6410, 7.240), (0.6422, 7.210), (0.6437, 7.272), (0.6452, 7.250), (0.6466, 7.245),
    (0.6480, 7.215), (0.6495, 7.195), (0.6510, 7.235), (0.6525, 7.230), (0.6540, 7.240), (0.6555, 7.245),
    (0.6572, 7.265), (0.6588, 7.270), (0.6603, 7.255), (0.6618, 7.210), (0.6633, 7.170), (0.6648, 7.130),
    (0.6662, 7.090), (0.6675, 7.050), (0.6690, 7.010), (0.6703, 6.992), (0.6715, 7.000), (0.6725, 7.020),
    (0.6735, 7.240), (0.6748, 7.280), (0.6765, 7.272), (0.6780, 7.262), (0.6795, 7.240), (0.6810, 7.250),
    (0.6825, 7.270), (0.6840, 7.262), (0.6855, 7.245), (0.6870, 7.230), (0.6885, 7.215), (0.6900, 7.225),
    (0.6915, 7.250), (0.6930, 7.222), (0.6945, 7.200), (0.6960, 7.235), (0.6975, 7.255), (0.6990, 7.255),
    (0.7005, 7.240), (0.7020, 7.255), (0.7035, 7.280), (0.7050, 7.230), (0.7065, 7.230), (0.7080, 7.235),
    (0.7095, 7.250), (0.7110, 7.255), (0.7125, 7.245), (0.7140, 7.220), (0.7155, 7.195), (0.7170, 7.230),
    (0.7185, 7.255), (0.7200, 7.262), (0.7215, 7.240), (0.7230, 7.215), (0.7245, 7.200), (0.7260, 7.175),
    (0.7272, 7.170), (0.7283, 7.165),
]
biwb_red = [
    (0.6137, 7.265), (0.6145, 7.276), (0.6157, 7.284), (0.6169, 7.276), (0.6178, 7.261), (0.6188, 7.241),
    (0.6198, 7.220), (0.6205, 7.276), (0.6218, 7.265), (0.6234, 7.276), (0.6247, 7.261), (0.6261, 7.245),
    (0.6274, 7.218), (0.6288, 7.179), (0.6297, 7.210), (0.6307, 7.230), (0.6320, 7.249), (0.6336, 7.274),
    (0.6349, 7.255), (0.6362, 7.265), (0.6376, 7.261), (0.6389, 7.237), (0.6399, 7.226), (0.6412, 7.261),
    (0.6420, 7.222), (0.6432, 7.280), (0.6445, 7.237), (0.6458, 7.230), (0.6468, 7.253), (0.6478, 7.233),
    (0.6491, 7.198), (0.6501, 7.206), (0.6511, 7.194), (0.6524, 7.206), (0.6534, 7.222), (0.6544, 7.241),
    (0.6553, 7.233), (0.6563, 7.257), (0.6576, 7.261), (0.6589, 7.274), (0.6603, 7.270), (0.6616, 7.253),
    (0.6629, 7.222), (0.6642, 7.202), (0.6655, 7.171), (0.6665, 7.144), (0.6675, 7.128), (0.6685, 7.105),
    (0.6695, 7.081), (0.6705, 7.054), (0.6714, 7.031), (0.6721, 6.994), (0.6731, 6.992), (0.6741, 7.004),
    (0.6764, 7.016), (0.6767, 7.272), (0.6780, 7.282), (0.6793, 7.270), (0.6806, 7.282), (0.6818, 7.292),
    (0.6829, 7.233), (0.6839, 7.245), (0.6852, 7.284), (0.6865, 7.276), (0.6875, 7.249), (0.6888, 7.245),
    (0.6898, 7.245), (0.6911, 7.237), (0.6928, 7.206), (0.6941, 7.187), (0.6957, 7.222), (0.6970, 7.237),
    (0.6984, 7.261), (0.6997, 7.249), (0.7010, 7.270), (0.7023, 7.265), (0.7036, 7.276), (0.7050, 7.222),
    (0.7060, 7.255), (0.7073, 7.259), (0.7086, 7.257), (0.7099, 7.247), (0.7112, 7.243), (0.7125, 7.237),
    (0.7138, 7.214), (0.7152, 7.183), (0.7161, 7.191), (0.7171, 7.226), (0.7184, 7.249), (0.7197, 7.265),
    (0.7207, 7.272), (0.7221, 7.257), (0.7230, 7.241), (0.7240, 7.261), (0.7250, 7.276), (0.7260, 7.253),
    (0.7270, 7.245), (0.7283, 7.241),
]

titles = ["Seal Leakage", "Seal Leakage, Blocked Inlet", "Blocked Inlet",
          "Seal Leakage, Worn Bearing", "Worn Bearing", "Blocked Inlet, Worn Bearing"]
x_ticks = [0.62, 0.63, 0.64, 0.65, 0.66, 0.67, 0.68, 0.69, 0.70, 0.71, 0.72]
x_labels = ["0.62", "0.63", "0.64", "0.65", "0.66", "0.67", "0.68", "0.69", "0.7", "0.71", "0.72"]
y_ticks = [7.0, 7.05, 7.1, 7.15, 7.2, 7.25, 7.3]
y_labels = ["7", "7.05", "7.1", "7.15", "7.2", "7.25", "7.3"]

BLUE, CYAN, YELLOW, ORANGE, RED = "#2e48a0", "#3fb8e8", "#ecdf1e", "#f6921e", "#e8221f"

seal_t, seal_b, seal_c, seal_y, seal_r = zip(*seal_rows)
panels = [
    [(BLUE, list(zip(seal_t, seal_b))), (CYAN, list(zip(seal_t, seal_c))),
     (YELLOW, list(zip(seal_t, seal_y))), (RED, list(zip(seal_t, seal_r)))],
    [(BLUE, slbi_blue), (CYAN, slbi_cyan), (YELLOW, slbi_mid), (ORANGE, slbi_orange), (RED, slbi_red)],
    [(BLUE, bi_blue), (CYAN, bi_cyan), (YELLOW, bi_mid), (ORANGE, bi_orange), (RED, bi_red)],
    [(BLUE, slwb_blue), (CYAN, slwb_cyan), (YELLOW, slwb_mid), (ORANGE, slwb_orange), (RED, slwb_red)],
    [(BLUE, wb_blue), (CYAN, wb_cyan), (YELLOW, wb_mid), (ORANGE, wb_orange), (RED, wb_red)],
    [(BLUE, biwb_blue), (CYAN, biwb_cyan), (YELLOW, biwb_mid), (ORANGE, biwb_orange), (RED, biwb_red)],
]

W, H = 1469, 1262
fig = plt.figure(figsize=(W / 100, H / 100), dpi=100)

col_left = [116, 879]
row_top = [55, 464, 875]
ax_w, ax_h = 581, 295
ylab_y = [197, 606, 1037]

for i, series in enumerate(panels):
    r, c = i // 2, i % 2
    x0, y0 = col_left[c], row_top[r]
    ax = fig.add_axes([x0 / W, 1 - (y0 + ax_h) / H, ax_w / W, ax_h / H])

    ht, hp = zip(*healthy)
    ax.plot(ht, hp, color="black", lw=1.6, zorder=2)
    band_lw = 2.8 if i == 0 else 2.2
    for k, (col, pts) in enumerate(series):
        t, p = zip(*pts)
        ax.plot(t, p, color=col, lw=2.5 if col == RED else band_lw, zorder=3 + k)

    ax.set_xlim(0.6137, 0.7283)
    ax.set_ylim(6.988, 7.333)
    ax.set_xticks(x_ticks)
    ax.set_xticklabels(x_labels, family="Liberation Sans", fontsize=12, color="#333333")
    ax.set_yticks(y_ticks)
    ax.set_yticklabels(y_labels, family="Liberation Sans", fontsize=12, color="#333333")
    ax.tick_params(axis="both", length=0)
    ax.tick_params(axis="x", pad=11)
    ax.tick_params(axis="y", pad=8.5 if c == 0 else 6.5)
    for s in ax.spines.values():
        s.set_linewidth(1.8)
        s.set_color("#333333")

    ax.set_title(titles[i], family="Open Sans", fontweight=800, fontsize=25.5,
                 color="#2d2d2d", pad=11, x=0.5 if c == 0 else 0.515)

    fig.text((45 if c == 0 else 808) / W, 1 - ylab_y[r] / H, "Pressure (bar)",
             rotation=90, ha="center", va="center", family="Lato",
             fontweight=300, fontsize=23, color="#111111")

for xc in [379, 1167]:
    fig.text(xc / W, 1 - 1243 / H, "Time (s)", ha="center", va="center",
             family="Lato", fontweight=300, fontsize=23, color="#111111")

# double headed arrow linking the two blocked-inlet panels
mid = ((680 + 902) / 2 / W, 1 - (486 + 339) / 2 / H)
for tip in [(680 / W, 1 - 486 / H), (902 / W, 1 - 339 / H)]:
    arr = FancyArrowPatch(mid, tip, transform=fig.transFigure,
                          arrowstyle="simple,head_length=1.5,head_width=2.1,tail_width=0.8",
                          mutation_scale=14, color="#f9bb16", lw=0,
                          shrinkA=0, shrinkB=0, zorder=20)
    fig.add_artist(arr)

fig.savefig("out.png", dpi=100)
